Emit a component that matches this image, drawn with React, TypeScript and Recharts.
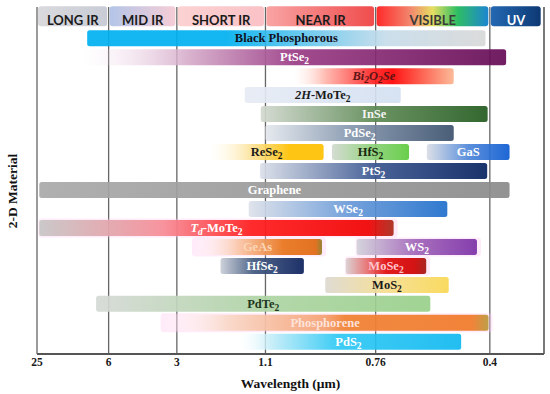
import { BarChart, Bar, XAxis, YAxis, CartesianGrid, ReferenceLine } from "recharts";

// wavelength axis: nonuniform, log-interpolated between the printed ticks
const WAVE_TICKS = [25, 6, 3, 1.1, 0.76, 0.4];
const TICK_UNITS = [0, 71.7, 140, 228.7, 339, 453.3];
const AXIS_END_UM = 0.295;

// spectral bands across the top
const BANDS = ["LONG IR", "MID IR", "SHORT IR", "NEAR IR", "VISIBLE", "UV"];
const BAND_FROM_UM = [25, 6, 3, 1.1, 0.76, 0.4];
const BAND_TO_UM = [6, 3, 1.1, 0.76, 0.4, 0.298];

// materials (*italic*, _x subscript)
const MATERIALS = [
  "Black Phosphorous", "PtSe_2", "*Bi_2O_2Se*", "*2H*-MoTe_2", "InSe", "PdSe_2",
  "ReSe_2", "HfS_2", "GaS", "PtS_2", "Graphene", "WSe_2", "*T_d*-MoTe_2",
  "GeAs", "WS_2", "HfSe_2", "MoSe_2", "MoS_2", "PdTe_2", "Phosphorene", "PdS_2",
];
const ROW = [1, 2, 3, 4, 5, 6, 7, 7, 7, 8, 9, 10, 11, 12, 12, 13, 13, 14, 15, 16, 17];
const FROM_UM = [9.2, 10, 1.0, 1.39, 1.16, 1.1, 2.07, 0.88, 0.57, 1.17, 23.9, 1.33, 23.9, 2.5, 0.81, 1.83, 0.84, 0.9, 7.7, 3.5, 1.54];
const TO_UM = [0.41, 0.365, 0.49, 0.66, 0.405, 0.49, 0.905, 0.63, 0.358, 0.406, 0.358, 0.508, 0.687, 0.91, 0.43, 0.967, 0.572, 0.504, 0.559, 0.403, 0.47];

// styles
type Stop = [number, string, number?];
const BAND_GRADS: Stop[][] = [
  [[0, "#DADADE"], [1, "#C9CCD6"]],
  [[0, "#B3C5E8"], [1, "#F6CDD6"]],
  [[0, "#FCD2D2"], [1, "#FAC2C6"]],
  [[0, "#F9A4A4"], [1, "#F04C4C"]],
  [[0, "#FF2A2A"], [0.3, "#F2866E"], [0.5, "#E6DE62"], [0.72, "#2FBE62"], [1, "#1C86D2"]],
  [[0, "#2468B2"], [1, "#0D3974"]],
];
const BAND_TEXT = ["#1b1b1b", "#1b1b1b", "#1b1b1b", "#1b1b1b", "#3a3a3a", "#ffffff"];

const GRADS: Stop[][] = [
  [[0, "#00B0F0"], [0.35, "#00B0F0"], [0.75, "#C6DCEA"], [1, "#D8D8D8"]],
  [[0, "#F4E4F0", 0], [0.25, "#D6ACCA"], [0.5, "#9A3B85"], [1, "#650A55"]],
  [[0, "#FFE8E0", 0], [0.2, "#FFB4AA"], [0.5, "#FF2020"], [0.62, "#FF0000"], [1, "#FBB590"]],
  [[0, "#E6EBF4"], [1, "#D3E0F1"]],
  [[0, "#D2D8CF"], [0.5, "#5E8A55"], [1, "#225A1E"]],
  [[0, "#E4E8EE"], [0.45, "#8597AE"], [1, "#3A506C"]],
  [[0, "#FFF8E0", 0], [0.35, "#FCE4A0"], [0.7, "#FFC000"], [1, "#FFC000"]],
  [[0, "#D2D9CE"], [0.5, "#8ED07A"], [1, "#5CCB3C"]],
  [[0, "#D9DDE5"], [0.5, "#4E86D8"], [1, "#0A5AD2"]],
  [[0, "#DADFE9"], [0.5, "#3A5690"], [1, "#05215E"]],
  [[0, "#A9A9A9"], [1, "#8A8A8A"]],
  [[0, "#DDE1E9"], [0.5, "#6A9AD8"], [1, "#1E6ECB"]],
  [[0, "#C6C6C6"], [0.35, "#F78C96"], [0.6, "#FF1A1A"], [0.93, "#F00000"], [1, "#A82818"]],
  [[0, "#FFFFFF", 0], [0.35, "#FAC6A8"], [0.7, "#E8741A"], [0.95, "#E06810"], [1, "#8C7A20"]],
  [[0, "#D2D2DA"], [0.5, "#A064B8"], [1, "#7A2FA6"]],
  [[0, "#C9CDD7"], [0.4, "#40587E"], [1, "#0A1F5C"]],
  [[0, "#D8D0D0"], [0.3, "#E86060"], [0.5, "#E00A0A"], [0.85, "#D00000"], [1, "#A01410"]],
  [[0, "#DCD8D0"], [0.5, "#F6DD8E"], [1, "#F8D752"]],
  [[0, "#D5D9D5"], [0.5, "#ADD3A3"], [1, "#98D08A"]],
  [[0, "#FFFFFF", 0], [0.2, "#F9D8C8"], [0.5, "#F4A070"], [0.56, "#F08030"], [0.95, "#F07A28"], [1, "#B89838"]],
  [[0, "#FFFFFF", 0], [0.15, "#C8EEF8"], [0.45, "#2EC8F4"], [1, "#10B8F0"]],
];
const TEXT_COLORS = [
  "#111122", "#ffffff", "#5e1414", "#1a1a1a", "#f4f4f4", "#ffffff", "#1a1a1a",
  "#182810", "#ffffff", "#ffffff", "#ffffff", "#ffffff", "#ffffff", "#FBD5B5",
  "#ffffff", "#ffffff", "#FFC4CC", "#1a1a1a", "#1e361e", "#FDE2DA", "#ffffff",
];
const GLOW = [12, 13, 14, 16, 19];

const SERIES = 6;

function toUnit(um: number) {
  let i = 0;
  while (i < WAVE_TICKS.length - 2 && um < WAVE_TICKS[i + 1]) i++;
  const a = WAVE_TICKS[i];
  const b = WAVE_TICKS[i + 1];
  return TICK_UNITS[i] + ((TICK_UNITS[i + 1] - TICK_UNITS[i]) * Math.log(um / a)) / Math.log(b / a);
}

type Item = { label: string; fill: string; color: string; header?: boolean; glow?: boolean };

// build one row per category; up to 6 segments per row
const table: any[] = [];
for (let r = 0; r <= 17; r++) table.push({ row: `r${r}`, items: [] as Item[] });
BANDS.forEach((b, i) => {
  const row = table[0];
  row[`s${i}`] = [toUnit(BAND_FROM_UM[i]), toUnit(BAND_TO_UM[i])];
  row.items[i] = { label: b, fill: `url(#band${i})`, color: BAND_TEXT[i], header: true };
});
MATERIALS.forEach((m, i) => {
  const row = table[ROW[i]];
  const k = row.items.length;
  row[`s${k}`] = [toUnit(FROM_UM[i]), toUnit(TO_UM[i])];
  row.items[k] = { label: m, fill: `url(#mat${i})`, color: TEXT_COLORS[i], glow: GLOW.includes(i) };
});

function parseLabel(s: string) {
  const out: { t: string; italic: boolean; sub: boolean }[] = [];
  let italic = false;
  let buf = "";
  const flush = () => {
    if (buf) out.push({ t: buf, italic, sub: false });
    buf = "";
  };
  for (let i = 0; i < s.length; i++) {
    const c = s[i];
    if (c === "*") {
      flush();
      italic = !italic;
    } else if (c === "_") {
      flush();
      out.push({ t: s[i + 1], italic, sub: true });
      i++;
    } else buf += c;
  }
  flush();
  return out;
}

function RichText({ x, y, text, color }: { x: number; y: number; text: string; color: string }) {
  let shifted = false;
  return (
    <text x={x} y={y} textAnchor="middle" fill={color} fontFamily="'Liberation Serif', serif" fontWeight="bold" fontSize={12.5}>
      {parseLabel(text).map((p, i) => {
        const dy = p.sub ? (shifted ? 0 : 3) : shifted ? -3 : 0;
        shifted = p.sub;
        return (
          <tspan key={i} dy={dy} fontStyle={p.italic ? "italic" : "normal"} fontSize={p.sub ? 9.5 : 12.5}>
            {p.t}
          </tspan>
        );
      })}
    </text>
  );
}

const makeShape = (k: number) => (props: any) => {
  const { x, y, width, height, payload } = props;
  const item: Item | undefined = payload?.items?.[k];
  if (!item || !Number.isFinite(x) || !Number.isFinite(width)) return <g />;
  const cx = x + width / 2;
  const cy = y + height / 2;
  if (item.header) {
    return (
      <g>
        <rect x={x + 1} y={y - 5} width={width - 2.5} height={20} rx={3} fill={item.fill} />
        <text x={cx} y={cy + 0.5} textAnchor="middle" dominantBaseline="central" fill={item.color} fontFamily="Lato, sans-serif" fontWeight="bold" fontSize={13}>
          {item.label}
        </text>
      </g>
    );
  }
  return (
    <g>
      {item.glow && <rect x={x - 1} y={y - 1.5} width={width + 5} height={height + 3} rx={3} fill="#FFC6EE" opacity={0.35} />}
      <rect x={x} y={y} width={width} height={height} rx={2.5} fill={item.fill} opacity={0.92} />
      <RichText x={cx} y={cy + 4} text={item.label} color={item.color} />
    </g>
  );
};

const gradDefs = (id: string, stops: Stop[]) => (
  <linearGradient key={id} id={id} x1="0" y1="0" x2="1" y2="0">
    {stops.map(([o, c, a], j) => (
      <stop key={j} offset={o} stopColor={c} stopOpacity={a ?? 1} />
    ))}
  </linearGradient>
);

const tickLabel = (u: number) => {
  const i = TICK_UNITS.indexOf(u);
  return i >= 0 ? String(WAVE_TICKS[i]) : "";
};

export default function App() {
  const axisMax = toUnit(AXIS_END_UM);
  return (
    <div style={{ width: 550, height: 394, background: "#fff" }}>
      <style>{"body{margin:0}"}</style>
      <BarChart
        width={550}
        height={394}
        data={table}
        layout="vertical"
        barGap={-16}
        margin={{ top: 7, right: 6, bottom: 0, left: 0 }}
      >
        <defs>
          {BAND_GRADS.map((s, i) => gradDefs(`band${i}`, s))}
          {GRADS.map((s, i) => gradDefs(`mat${i}`, s))}
        </defs>
        <CartesianGrid horizontal={false} stroke="#666" strokeWidth={1.3} />
        <XAxis
          type="number"
          domain={[0, axisMax]}
          ticks={TICK_UNITS}
          tickFormatter={tickLabel}
          tickLine={false}
          tickSize={0}
          tickMargin={4}
          height={40}
          axisLine={{ stroke: "#555", strokeWidth: 2 }}
          tick={{ fill: "#1a1a1a", fontFamily: "'Liberation Serif', serif", fontWeight: "bold", fontSize: 11.5 }}
          label={{
            value: "Wavelength (μm)",
            position: "insideBottom",
            offset: 6,
            fill: "#111",
            fontFamily: "'Liberation Serif', serif",
            fontWeight: "bold",
            fontSize: 13.5,
          }}
        />
        <YAxis
          type="category"
          dataKey="row"
          width={37}
          tick={false}
          tickLine={false}
          axisLine={false}
          padding={{ top: 3.2, bottom: 2.2 }}
          label={{
            content: () => (
              <text
                x={12}
                y={191}
                transform="rotate(-90 12 191)"
                textAnchor="middle"
                dominantBaseline="central"
                fill="#111"
                fontFamily="'Liberation Serif', serif"
                fontWeight="bold"
                fontSize={13.5}
              >
                2-D Material
              </text>
            ),
          }}
        />
        <ReferenceLine x={axisMax} stroke="#666" strokeWidth={1.3} ifOverflow="extendDomain" />
        {Array.from({ length: SERIES }, (_, k) => (
          <Bar key={k} dataKey={`s${k}`} barSize={16} shape={makeShape(k)} isAnimationActive={false} />
        ))}
      </BarChart>
    </div>
  );
}
